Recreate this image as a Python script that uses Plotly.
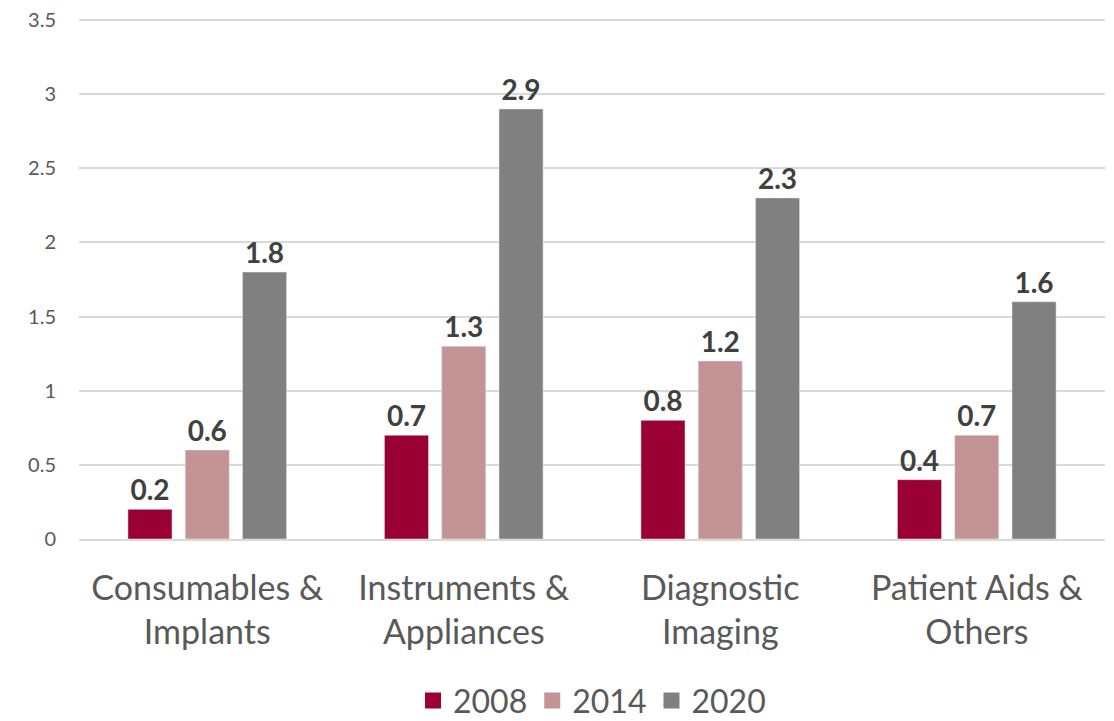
import plotly.graph_objects as go

categories = ['Consumables &<br>Implants', 'Instruments &<br>Appliances',
              'Diagnostic<br>Imaging', 'Patient Aids &<br>Others']
years = ['2008', '2014', '2020']
values_2008 = [0.2, 0.7, 0.8, 0.4]
values_2014 = [0.6, 1.3, 1.2, 0.7]
values_2020 = [1.8, 2.9, 2.3, 1.6]
colors = ['#9B0034', '#C49494', '#808080']

FONT = 'Lato, Noto Sans, sans-serif'

fig = go.Figure()
for year, vals, col in zip(years, [values_2008, values_2014, values_2020], colors):
	fig.add_trace(go.Bar(
		x=categories, y=vals, name=year, marker_color=col, showlegend=False,
		text=[f'{v:.1f}' for v in vals], textposition='outside',
		textfont=dict(size=28, color='#404040', family=FONT, weight='bold'),
		cliponaxis=False,
	))
	# bigger square swatch for the legend
	fig.add_trace(go.Scatter(
		x=[None], y=[None], mode='markers', name=year,
		marker=dict(symbol='square', size=21, color=col),
	))

# page body has an 8px margin, so the figure is a bit smaller than the window
fig.update_layout(
	width=1106, height=713,
	margin=dict(l=71, r=9, t=9, b=182, autoexpand=False),
	paper_bgcolor='white', plot_bgcolor='white',
	barmode='group', bargap=0.33, bargroupgap=0.23,
	font=dict(family=FONT, color='#595959'),
	legend=dict(orientation='h', x=0.5, xanchor='center', y=-0.31, yanchor='middle',
				font=dict(size=32, color='#595959'), itemwidth=30, traceorder='normal'),
	showlegend=True,
)
fig.update_yaxes(range=[0, 3.52], tickvals=[0, 0.5, 1, 1.5, 2, 2.5, 3, 3.5],
				 ticktext=['0', '0.5', '1', '1.5', '2', '2.5', '3', '3.5'],
				 ticklabeloverflow='allow',
				 showgrid=True, gridcolor='#D9D9D9', gridwidth=1.5,
				 zeroline=False, showline=False, tickfont=dict(size=20, color='#595959'),
				 ticks='', ticklabelstandoff=22)
fig.update_xaxes(showline=True, linecolor='#D9D9D9', linewidth=1.5, ticks='',
				 tickfont=dict(size=34, color='#595959'), ticklabelstandoff=18)

fig.write_html('out.html')
